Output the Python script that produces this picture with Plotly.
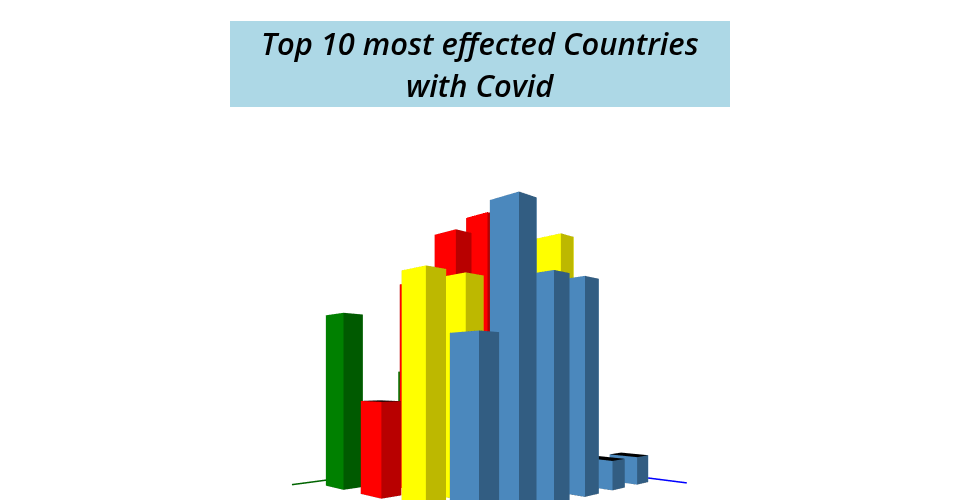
import plotly.graph_objects as go

title_lines = ["Top 10 most effected Countries", "with Covid"]

# bar heights per row (green, red, yellow, blue), one entry per column, None = no bar
column_positions = [1, 2, 3, 4, 5, 6]
green_values = [None, None, None, 265, None, 393]
red_values = [None, None, 657, 590, 460, 199]
yellow_values = [None, 592, None, None, 460, 460]
blue_values = [64, 65, 461, 460, 591, 329]

row_positions = {"green": 1, "red": 2, "yellow": 3, "blue": 4}
row_values = {"green": green_values, "red": red_values, "yellow": yellow_values, "blue": blue_values}
light_colors = {"green": "#008000", "red": "#ff0000", "yellow": "#ffff00", "blue": "#4b88bd"}
dark_colors = {"green": "#005a00", "red": "#b80000", "yellow": "#bdb800", "blue": "#325d82"}
top_color = "#000000"
BAR_X = 0.49
BAR_Y = 0.525


def box_mesh(rows):
    xs, ys, zs, i, j, k, fc = [], [], [], [], [], [], []
    for name, values in rows.items():
        yp = row_positions[name]
        for xp, h in zip(column_positions, values):
            if h is None:
                continue
            n = len(xs)
            x0, x1, y0, y1 = xp - BAR_X, xp, yp - BAR_Y, yp
            xs += [x0, x1, x1, x0, x0, x1, x1, x0]
            ys += [y0, y0, y1, y1, y0, y0, y1, y1]
            zs += [0, 0, 0, 0, h, h, h, h]
            light, dark = light_colors[name], dark_colors[name]
            faces = [
                ((0, 1, 2), top_color), ((0, 2, 3), top_color),
                ((4, 5, 6), top_color), ((4, 6, 7), top_color),
                ((1, 2, 6), light), ((1, 6, 5), light),
                ((0, 3, 7), light), ((0, 7, 4), light),
                ((2, 3, 7), dark), ((2, 7, 6), dark),
                ((0, 1, 5), dark), ((0, 5, 4), dark),
            ]
            for (a, b, c), col in faces:
                i.append(n + a); j.append(n + b); k.append(n + c); fc.append(col)
    return go.Mesh3d(
        x=xs, y=ys, z=zs, i=i, j=j, k=k, facecolor=fc, flatshading=True,
        lighting=dict(ambient=1, diffuse=0, specular=0, fresnel=0, roughness=1),
        hoverinfo="skip", showscale=False,
    )


X_MAX, Y_MAX, Z_MAX = 6.6, 4.6, 650
FIG_H = 630

fig = go.Figure()
fig.add_trace(box_mesh(row_values))
fig.add_trace(go.Scatter3d(x=[0, 6.47], y=[0, 0], z=[0, 0], mode="lines",
                           line=dict(color="#006400", width=3), hoverinfo="skip", showlegend=False))
fig.add_trace(go.Scatter3d(x=[0, 0], y=[0, 4.5], z=[0, 0], mode="lines",
                           line=dict(color="#0000ff", width=3), hoverinfo="skip", showlegend=False))

hidden = dict(visible=False, showgrid=False, zeroline=False, showticklabels=False, showspikes=False)
fig.update_layout(
    width=960, height=FIG_H, margin=dict(l=0, r=0, t=0, b=0, pad=0),
    paper_bgcolor="white", showlegend=False,
    scene=dict(
        domain=dict(x=[0, 1], y=[0, 500 / FIG_H]),
        xaxis=dict(range=[0, X_MAX], **hidden),
        yaxis=dict(range=[0, Y_MAX], **hidden),
        zaxis=dict(range=[0, Z_MAX], **hidden),
        aspectmode="manual", aspectratio=dict(x=1.056, y=1.005, z=1),
        bgcolor="white",
        camera=dict(
            eye=dict(x=1.560, y=1.503, z=-0.125),
            center=dict(x=0.146, y=0.089, z=-0.125),
            up=dict(x=0, y=0, z=1),
            projection=dict(type="perspective"),
        ),
    ),
    shapes=[dict(type="rect", xref="paper", yref="paper", layer="above",
                 x0=230 / 960, x1=730 / 960, y0=1 - 107 / FIG_H, y1=1 - 21 / FIG_H,
                 fillcolor="#add8e6", line=dict(width=0))],
    annotations=[
        dict(text=line, xref="paper", yref="paper", x=0.5, y=1 - yc / FIG_H, xanchor="center", yanchor="middle",
             showarrow=False,
             font=dict(family="Open Sans", size=30.9, color="black", style="italic", weight=600))
        for line, yc in zip(title_lines, [43, 85])
    ],
)
fig.write_html(
    "out.html", config=dict(displayModeBar=False),
    post_script="document.body.style.margin='0';document.body.style.overflow='hidden';"
                "document.documentElement.style.overflow='hidden';",
)
